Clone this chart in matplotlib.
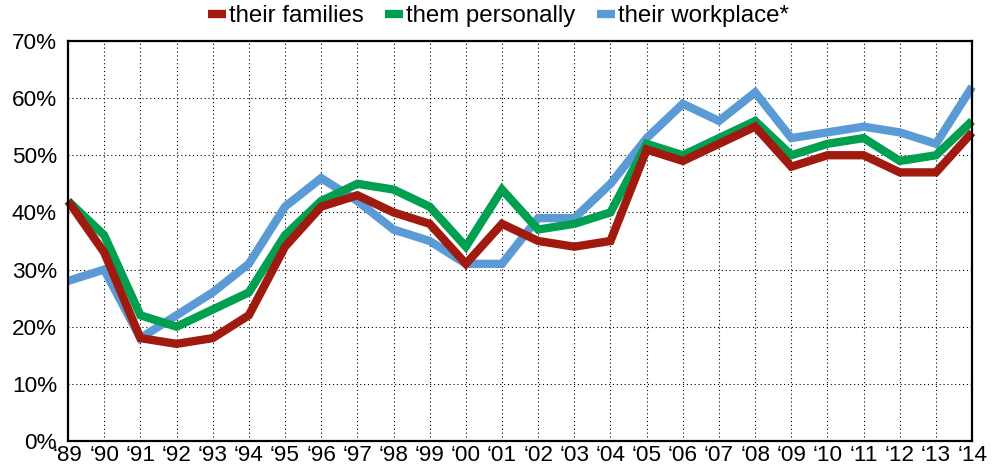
import numpy as np
import matplotlib.pyplot as plt
from matplotlib.ticker import FuncFormatter

plt.rcParams['font.family'] = ['Liberation Sans', 'DejaVu Sans']

years = ['\u201889', '\u201890', '\u201891', '\u201892', '\u201893', '\u201894', '\u201895',
         '\u201896', '\u201897', '\u201898', '\u201899', '\u201800', '\u201801', '\u201802',
         '\u201803', '\u201804', '\u201805', '\u201806', '\u201807', '\u201808', '\u201809',
         '\u201810', '\u201811', '\u201812', '\u201813', '\u201814']

families = [42, 33, 18, 17, 18, 22, 34, 41, 43, 40, 38, 31, 38, 35, 34, 35,
            51, 49, 52, 55, 48, 50, 50, 47, 47, 54]
personally = [42, 36, 22, 20, 23, 26, 36, 42, 45, 44, 41, 34, 44, 37, 38, 40,
              52, 50, 53, 56, 50, 52, 53, 49, 50, 56]
workplace = [28, 30, 18, 22, 26, 31, 41, 46, 42, 37, 35, 31, 31, 39, 39, 45,
             53, 59, 56, 61, 53, 54, 55, 54, 52, 62]

red = '#A01A10'
green = '#00A050'
blue = '#5B9BD5'

fig = plt.figure(figsize=(9.93, 4.69), dpi=100)
ax = fig.add_axes([0.0685, 0.0597, 0.9105, 0.853])

x = np.arange(len(years))
lw = 6
kw = dict(solid_joinstyle='miter', solid_capstyle='butt', clip_on=False)
l3, = ax.plot(x, workplace, color=blue, lw=lw, label='their workplace*', **kw)
l2, = ax.plot(x, personally, color=green, lw=lw, label='them personally', **kw)
l1, = ax.plot(x, families, color=red, lw=lw, label='their families', **kw)

ax.set_xlim(0, len(years) - 1)
ax.set_ylim(0, 70)
ax.set_yticks(np.arange(0, 71, 10))
ax.yaxis.set_major_formatter(FuncFormatter(lambda v, p: f'{v:.0f}%'))
ax.set_xticks(x)
ax.set_xticklabels(years)
ax.tick_params(length=0, labelsize=16.2, colors='black')
ax.tick_params(axis='x', pad=3)
ax.tick_params(axis='y', pad=8)
ax.grid(True, color='black', linestyle=(0, (1, 2.5)), linewidth=0.8)
for s in ax.spines.values():
    s.set_linewidth(1.6)
    s.set_color('black')

fig.legend(handles=[l1, l2, l3], loc='upper center', bbox_to_anchor=(0.502, 1.035),
           ncol=3, frameon=False, fontsize=17.3, handlelength=0.75, handletextpad=0.12,
           columnspacing=0.9)

fig.savefig('out.png', dpi=100)
